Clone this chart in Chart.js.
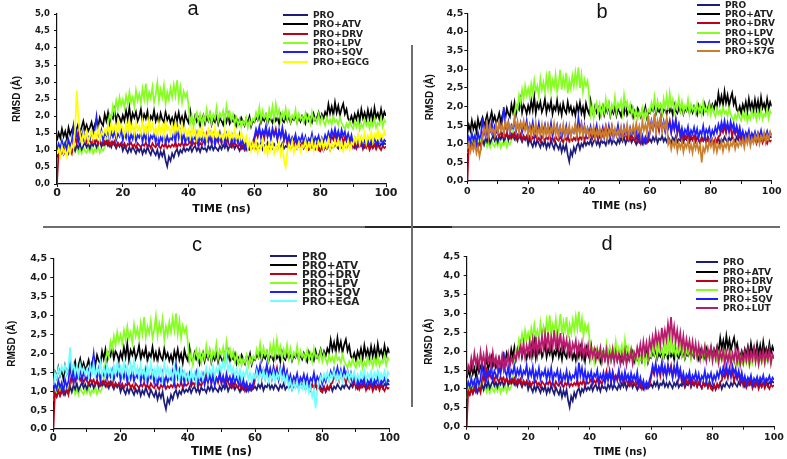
<!DOCTYPE html>
<html>
<head>
<meta charset="utf-8">
<script src="https://cdn.jsdelivr.net/npm/chart.js@4.4.1/dist/chart.umd.min.js"></script>
<style>
body { margin: 0; background: #fff; }
#page { position: relative; width: 787px; height: 459px; overflow: hidden; background: #fff; }
canvas { position: absolute; }
.tag { position: absolute; width: 40px; text-align: center; font: 20px "Liberation Sans", Arial, sans-serif; line-height: 20px; color: #111; }
.leg { position: absolute; height: 10px; font-family: "DejaVu Sans", sans-serif; font-weight: bold; line-height: 10px; color: #222; white-space: nowrap; }
.leg span { position: absolute; left: 0; top: 4px; height: 2px; }
.rule { position: absolute; background: #6e6e6e; }
</style>
</head>
<body>
<div id="page">
<canvas id="chartA" width="400" height="225" style="left:0;top:0"></canvas>
<canvas id="chartB" width="387" height="225" style="left:400px;top:0"></canvas>
<canvas id="chartC" width="400" height="231" style="left:0;top:228px"></canvas>
<canvas id="chartD" width="387" height="231" style="left:400px;top:228px"></canvas>
<div class="rule" style="left:43px;top:226px;width:737px;height:1.5px"></div>
<div class="rule" style="left:365px;top:226px;width:87px;height:1.5px;background:#2a2a2a"></div>
<div class="rule" style="left:411px;top:45px;width:1.5px;height:362px"></div>
</div>
<script>
// time axis (ns), one frame every 0.5 ns
var timeNs = [0,0.5,1,1.5,2,2.5,3,3.5,4,4.5,5,5.5,6,6.5,7,7.5,8,8.5,9,9.5,
  10,10.5,11,11.5,12,12.5,13,13.5,14,14.5,15,15.5,16,16.5,17,17.5,18,18.5,19,19.5,
  20,20.5,21,21.5,22,22.5,23,23.5,24,24.5,25,25.5,26,26.5,27,27.5,28,28.5,29,29.5,
  30,30.5,31,31.5,32,32.5,33,33.5,34,34.5,35,35.5,36,36.5,37,37.5,38,38.5,39,39.5,
  40,40.5,41,41.5,42,42.5,43,43.5,44,44.5,45,45.5,46,46.5,47,47.5,48,48.5,49,49.5,
  50,50.5,51,51.5,52,52.5,53,53.5,54,54.5,55,55.5,56,56.5,57,57.5,58,58.5,59,59.5,
  60,60.5,61,61.5,62,62.5,63,63.5,64,64.5,65,65.5,66,66.5,67,67.5,68,68.5,69,69.5,
  70,70.5,71,71.5,72,72.5,73,73.5,74,74.5,75,75.5,76,76.5,77,77.5,78,78.5,79,79.5,
  80,80.5,81,81.5,82,82.5,83,83.5,84,84.5,85,85.5,86,86.5,87,87.5,88,88.5,89,89.5,
  90,90.5,91,91.5,92,92.5,93,93.5,94,94.5,95,95.5,96,96.5,97,97.5,98,98.5,99,99.5,100];

// RMSD (A)
var proRmsd = [0.78,0.92,0.85,1.00,0.88,0.97,1.05,0.90,1.02,0.95,
  1.10,0.98,1.15,1.05,1.20,1.02,1.12,1.22,1.08,1.18,
  1.05,1.20,1.12,1.25,1.08,1.18,1.28,1.10,1.22,1.15,
  1.25,1.12,1.20,1.08,1.24,1.15,1.05,1.18,1.10,1.20,
  0.98,1.12,1.02,0.92,1.08,0.95,1.10,1.00,0.90,1.05,
  0.95,1.08,0.88,1.02,0.92,1.10,0.96,0.86,1.04,0.94,
  0.85,1.00,0.78,0.95,0.82,0.98,0.70,0.52,0.80,0.68,
  0.90,0.78,0.95,1.02,0.85,1.00,0.92,1.08,0.96,1.04,
  0.98,1.10,0.95,1.06,1.12,0.98,1.08,0.94,1.10,1.02,
  1.05,0.96,1.12,1.02,1.15,1.00,1.10,1.04,0.98,1.12,
  1.02,1.15,1.06,1.18,1.00,1.12,1.08,1.20,1.04,1.14,
  1.08,0.98,1.12,1.04,1.16,1.00,1.10,1.02,1.14,1.06,
  1.12,1.04,1.18,1.08,1.20,1.02,1.14,1.10,1.22,1.06,
  1.15,1.05,1.18,1.10,1.02,1.16,1.08,1.20,1.04,1.12,
  1.08,1.18,1.04,1.14,1.10,1.22,1.05,1.16,1.09,1.20,
  1.06,1.15,1.10,1.02,1.18,1.08,1.14,1.04,1.20,1.10,
  1.02,1.12,0.98,1.08,1.04,1.16,1.00,1.12,1.06,1.18,
  1.10,1.04,1.16,1.08,1.20,1.12,1.06,1.18,1.10,1.22,
  1.14,1.06,1.20,1.10,1.24,1.12,1.18,1.08,1.22,1.14,
  1.10,1.20,1.06,1.16,1.12,1.22,1.08,1.18,1.14,1.20,1.16];
var atvRmsd = [1.28,1.50,1.35,1.62,1.40,1.55,1.32,1.66,1.45,1.58,
  1.70,1.48,1.62,1.78,1.52,1.68,1.85,1.60,1.74,1.56,
  1.66,1.82,1.58,1.75,1.90,1.68,1.95,1.80,1.72,2.05,
  1.85,2.10,1.78,2.00,1.92,2.18,1.84,2.05,1.96,1.80,
  2.02,1.86,2.15,1.90,2.25,1.82,2.08,1.95,2.12,1.85,
  1.98,2.20,1.84,2.05,1.92,2.14,1.80,2.00,1.90,2.16,
  1.85,2.02,1.78,2.08,1.90,1.82,2.12,1.88,2.00,1.80,
  1.95,1.76,2.05,1.86,2.10,1.82,1.98,1.74,2.08,1.90,
  1.80,2.15,1.88,1.76,2.00,1.84,1.95,1.72,1.90,2.02,
  1.78,1.96,1.85,2.05,1.75,1.92,1.82,2.00,1.76,1.94,
  1.86,1.74,1.98,1.82,2.04,1.78,1.90,1.84,1.98,1.72,
  1.88,1.78,1.95,1.84,1.72,1.92,1.80,1.98,1.70,1.86,
  1.82,1.96,1.88,2.05,1.80,1.94,1.86,2.02,1.78,1.92,
  1.90,1.80,2.00,1.86,1.96,1.78,2.04,1.88,1.82,1.98,
  1.86,2.00,1.80,1.94,1.88,2.04,1.82,1.96,1.84,2.00,
  1.90,1.78,2.02,1.86,1.96,1.82,2.06,1.88,1.94,2.10,
  1.88,2.05,1.92,2.12,2.00,2.35,2.08,2.28,2.02,2.40,
  2.10,2.30,2.02,2.22,2.36,2.06,2.20,1.92,1.85,2.00,
  1.82,2.05,1.90,2.12,1.86,2.20,1.94,2.10,1.88,2.18,
  1.92,2.15,1.86,2.24,1.96,2.08,1.90,2.20,1.94,2.12,2.00];
var drvRmsd = [0.00,0.95,0.85,1.00,0.88,1.05,0.92,0.98,1.02,0.90,
  1.25,1.40,1.20,1.50,1.32,1.45,1.28,1.38,1.22,1.34,
  1.26,1.18,1.32,1.22,1.30,1.16,1.28,1.20,1.14,1.26,
  1.18,1.28,1.12,1.24,1.16,1.26,1.10,1.22,1.14,1.20,
  1.12,1.20,1.08,1.18,1.14,1.22,1.10,1.16,1.06,1.20,
  1.14,1.08,1.18,1.12,1.22,1.10,1.16,1.06,1.20,1.12,
  1.08,1.18,1.12,1.04,1.16,1.10,1.20,1.06,1.14,1.08,
  1.16,1.10,1.22,1.08,1.18,1.12,1.24,1.10,1.20,1.14,
  1.18,1.26,1.12,1.22,1.16,1.28,1.10,1.20,1.14,1.24,
  1.30,1.48,1.25,1.40,1.20,1.46,1.28,1.36,1.22,1.42,
  1.20,1.34,1.16,1.30,1.24,1.12,1.28,1.10,1.22,1.14,
  1.08,1.20,1.04,1.14,1.00,1.12,1.06,1.16,1.02,1.10,
  1.30,1.52,1.38,1.60,1.42,1.55,1.34,1.62,1.40,1.50,
  1.36,1.58,1.44,1.62,1.32,1.54,1.40,1.60,1.28,1.48,
  1.18,1.30,1.10,1.24,1.14,1.28,1.08,1.22,1.12,1.20,
  1.06,1.18,1.10,1.02,1.16,1.08,1.20,1.04,1.14,1.00,
  0.96,1.10,1.00,1.14,1.04,1.18,1.22,1.40,1.30,1.48,
  1.28,1.50,1.34,1.44,1.20,1.38,1.26,1.42,1.18,1.30,
  1.08,1.20,1.04,1.16,1.10,1.22,1.02,1.14,1.06,1.18,
  1.00,1.12,1.06,1.16,1.02,1.14,1.08,1.00,1.12,1.06,1.10];
var lpvRmsd = [0.75,1.05,0.90,1.15,0.98,1.22,1.05,0.95,1.12,1.00,
  1.18,0.96,1.10,0.92,1.04,0.90,1.08,0.98,0.92,1.06,
  0.94,1.10,0.90,1.02,0.96,1.12,0.92,1.04,0.98,1.08,
  1.30,1.75,2.05,1.90,2.30,2.10,2.45,2.20,2.55,2.30,
  2.48,2.25,2.60,2.35,2.70,2.40,2.55,2.28,2.75,2.45,
  2.65,2.38,2.80,2.50,2.95,2.42,2.70,2.52,2.85,2.40,
  2.62,2.98,2.45,2.78,2.55,2.90,2.35,2.70,2.48,2.82,
  2.55,2.92,2.60,3.05,2.50,2.85,2.40,2.72,2.55,2.68,
  2.30,1.78,2.00,1.70,1.95,2.10,1.82,2.05,1.75,2.00,
  1.85,2.20,1.90,2.10,1.80,2.05,1.92,2.25,1.85,2.08,
  1.95,2.15,1.82,2.30,1.98,2.12,1.86,2.05,1.78,1.95,
  1.72,1.90,1.68,1.85,1.75,1.95,1.66,1.88,1.74,1.92,
  1.85,2.10,1.92,2.25,1.88,2.15,1.95,2.05,1.82,2.20,
  1.95,2.28,1.90,2.35,2.00,2.18,1.86,2.10,1.94,2.22,
  1.88,2.12,1.84,2.02,1.92,2.18,1.80,2.06,1.90,1.98,
  1.82,2.08,1.86,2.00,1.78,2.12,1.88,1.96,1.80,2.05,
  1.78,1.98,1.84,1.72,1.95,1.80,1.90,1.75,1.98,1.82,
  1.88,1.74,1.96,1.80,1.70,1.62,1.78,1.66,1.84,1.70,
  1.62,1.82,1.68,1.88,1.60,1.76,1.66,1.90,1.72,1.84,
  1.64,1.86,1.70,1.92,1.66,1.80,1.74,1.95,1.68,1.88,1.80];
var sqvRmsd = [1.00,1.18,1.05,1.28,1.10,1.22,0.98,1.30,1.12,1.25,
  1.70,1.30,1.52,1.25,1.45,1.35,1.58,1.28,1.48,1.38,
  1.30,1.55,1.40,1.62,1.98,1.45,1.35,1.58,1.28,1.50,
  1.42,1.60,1.32,1.52,1.38,1.56,1.30,1.48,1.40,1.62,
  1.28,1.50,1.35,1.58,1.22,1.46,1.32,1.55,1.26,1.44,
  1.36,1.52,1.24,1.48,1.30,1.56,1.20,1.42,1.34,1.50,
  1.22,1.44,1.16,1.38,1.26,1.48,1.18,1.40,1.24,1.36,
  1.30,1.52,1.22,1.70,1.35,1.55,1.25,1.48,1.20,1.42,
  1.28,1.46,1.20,1.40,1.32,1.50,1.18,1.38,1.26,1.44,
  1.16,1.36,1.24,1.48,1.20,1.42,1.14,1.34,1.28,1.50,
  1.22,1.40,1.18,1.46,1.26,1.38,1.15,1.42,1.24,1.36,
  1.20,1.45,1.12,1.30,1.08,1.22,1.02,1.18,1.06,1.24,
  1.38,1.62,1.44,1.68,1.36,1.58,1.46,1.70,1.40,1.60,
  1.34,1.64,1.42,1.56,1.30,1.60,1.38,1.66,1.32,1.52,
  1.24,1.42,1.20,1.38,1.28,1.46,1.18,1.36,1.26,1.44,
  1.22,1.40,1.16,1.34,1.26,1.48,1.20,1.38,1.28,1.42,
  1.18,1.36,1.24,1.44,1.30,1.52,1.36,1.58,1.40,1.62,
  1.38,1.56,1.32,1.60,1.42,1.54,1.30,1.48,1.26,1.44,
  1.18,1.34,1.14,1.30,1.20,1.36,1.12,1.28,1.18,1.32,
  1.14,1.30,1.20,1.36,1.16,1.28,1.22,1.34,1.18,1.30,1.24];
var egcgRmsd = [0.88,1.02,0.82,1.10,0.90,1.00,0.80,1.08,0.92,1.15,
  1.05,1.60,2.75,1.90,1.45,1.20,1.50,1.30,1.55,1.25,
  1.40,1.58,1.32,1.50,1.38,1.62,1.30,1.52,1.44,1.60,
  1.48,1.72,1.42,1.80,1.55,1.70,1.45,1.85,1.52,1.75,
  1.62,1.45,1.78,1.50,1.88,1.56,1.72,1.46,1.82,1.58,
  1.70,1.48,1.86,1.55,1.74,1.44,1.90,1.60,1.76,1.50,
  1.66,1.42,1.80,1.52,1.72,1.40,1.85,1.58,1.68,1.46,
  1.75,1.50,1.82,1.56,1.70,1.44,1.78,1.52,1.64,1.40,
  1.58,1.36,1.66,1.42,1.60,1.32,1.55,1.40,1.68,1.38,
  1.50,1.30,1.62,1.44,1.56,1.34,1.66,1.40,1.52,1.36,
  1.48,1.30,1.58,1.38,1.54,1.28,1.50,1.36,1.60,1.34,
  1.46,1.30,1.52,1.36,1.24,1.40,1.05,1.28,0.98,1.20,
  1.02,1.25,0.92,1.18,1.05,1.28,0.96,1.15,0.88,1.22,
  1.00,1.20,0.90,1.12,0.98,1.25,0.86,1.10,0.70,0.50,
  0.95,1.18,1.02,1.26,0.92,1.15,1.04,1.22,0.96,1.14,
  1.08,1.28,1.00,1.20,1.06,1.30,0.98,1.18,1.04,1.24,
  1.10,1.30,1.02,1.22,1.08,1.32,1.00,1.20,1.06,1.26,
  1.12,1.30,1.04,1.24,0.98,1.18,1.06,1.28,1.02,1.22,
  1.16,1.36,1.22,1.45,1.18,1.40,1.26,1.50,1.20,1.42,
  1.28,1.52,1.24,1.46,1.34,1.58,1.30,1.48,1.36,1.55,1.40];
var k7gRmsd = [0.85,1.00,0.78,0.95,0.82,1.02,0.75,0.92,0.66,0.88,
  1.20,1.42,1.25,1.55,1.18,1.48,1.30,1.40,1.22,1.52,
  1.30,1.58,1.36,1.50,1.28,1.62,1.40,1.55,1.32,1.48,
  1.45,1.68,1.38,1.60,1.30,1.55,1.42,1.62,1.35,1.50,
  1.25,1.48,1.20,1.44,1.30,1.56,1.22,1.40,1.28,1.52,
  1.18,1.45,1.26,1.50,1.20,1.42,1.32,1.55,1.24,1.46,
  1.20,1.44,1.28,1.52,1.18,1.40,1.26,1.48,1.16,1.42,
  1.30,1.55,1.22,1.46,1.28,1.50,1.20,1.44,1.26,1.40,
  1.18,1.38,1.24,1.46,1.14,1.36,1.22,1.42,1.16,1.34,
  1.20,1.44,1.12,1.38,1.26,1.48,1.18,1.40,1.22,1.36,
  1.24,1.46,1.18,1.42,1.28,1.52,1.20,1.40,1.30,1.50,
  1.26,1.55,1.32,1.48,1.22,1.60,1.36,1.52,1.28,1.75,
  1.34,1.58,1.40,1.80,1.30,1.62,1.45,1.70,1.32,1.55,
  1.40,1.68,0.98,1.08,0.85,1.05,0.92,1.10,0.80,1.02,
  0.88,1.06,0.78,1.00,0.90,1.08,0.82,0.98,0.76,1.04,
  0.86,1.02,0.80,0.96,0.50,0.90,0.78,1.00,0.84,1.06,
  0.92,1.08,0.82,1.04,0.78,0.98,0.88,1.06,0.80,1.00,
  0.90,1.08,0.84,1.02,0.94,1.10,0.86,1.04,0.92,1.06,
  0.96,1.12,0.90,1.16,1.00,1.20,0.94,1.14,1.02,1.22,
  1.06,1.26,1.00,1.20,1.10,1.30,1.04,1.24,1.12,1.32,1.20];
var egaRmsd = [1.15,1.48,1.35,1.60,1.42,1.65,1.50,1.68,1.45,1.62,
  2.15,1.55,1.72,1.45,1.65,1.40,1.70,1.50,1.62,1.44,
  1.58,1.38,1.66,1.45,1.72,1.40,1.60,1.48,1.75,1.42,
  1.62,1.40,1.70,1.46,1.58,1.36,1.68,1.44,1.74,1.50,
  1.64,1.42,1.78,1.48,1.66,1.38,1.72,1.50,1.80,1.46,
  1.62,1.36,1.70,1.44,1.58,1.32,1.66,1.42,1.74,1.40,
  1.58,1.34,1.68,1.42,1.60,1.30,1.72,1.46,1.62,1.38,
  1.55,1.32,1.64,1.40,1.56,1.28,1.60,1.38,1.52,1.30,
  1.46,1.26,1.54,1.32,1.48,1.22,1.56,1.36,1.50,1.30,
  1.45,1.62,1.38,1.58,1.42,1.66,1.36,1.60,1.48,1.70,
  1.52,1.78,1.60,1.90,1.55,1.72,1.48,1.62,1.40,1.58,
  1.36,1.55,1.30,1.50,1.38,1.58,1.32,1.48,1.26,1.45,
  1.34,1.52,1.28,1.48,1.36,1.56,1.30,1.46,1.24,1.42,
  1.32,1.50,1.26,1.46,1.34,1.54,1.28,1.44,1.22,1.40,
  1.10,1.28,1.04,1.22,1.08,1.26,1.00,1.18,1.06,1.24,
  1.02,1.20,0.96,1.12,0.85,1.05,0.55,1.00,1.20,1.38,
  1.28,1.45,1.32,1.50,1.26,1.44,1.34,1.52,1.28,1.46,
  1.30,1.48,1.24,1.42,1.34,1.52,1.28,1.46,1.32,1.50,
  1.26,1.44,1.30,1.50,1.36,1.54,1.28,1.46,1.34,1.52,
  1.30,1.48,1.36,1.54,1.28,1.46,1.34,1.52,1.30,1.50,1.42];
var lutRmsd = [1.35,1.62,1.50,1.82,1.58,1.95,1.66,1.85,1.55,1.98,
  1.68,1.90,1.60,2.02,1.72,1.88,1.58,1.96,1.66,1.84,
  1.55,1.80,1.62,1.88,1.52,1.78,1.65,1.92,1.58,1.82,
  1.70,1.90,1.78,2.05,1.85,2.12,1.90,2.20,1.84,2.15,
  1.95,2.25,1.88,2.30,2.00,2.38,1.92,2.28,2.05,2.40,
  2.02,2.45,2.10,2.50,1.98,2.38,2.12,2.55,2.04,2.42,
  2.10,2.48,2.00,2.36,2.08,2.30,1.95,2.25,1.90,2.20,
  2.05,2.28,1.88,2.18,1.96,2.22,1.85,2.12,1.92,2.16,
  1.80,2.10,1.86,2.05,1.76,2.02,1.84,2.08,1.72,1.98,
  1.78,2.04,1.68,1.95,1.80,2.06,1.70,1.98,1.74,1.92,
  1.66,1.92,1.72,2.00,1.64,1.90,1.76,2.02,1.68,1.96,
  1.82,2.10,1.90,2.18,1.86,2.25,1.95,2.22,1.88,2.30,
  2.05,2.38,2.12,2.50,2.20,2.45,2.15,2.62,2.25,2.55,
  2.30,2.72,2.40,2.90,2.35,2.65,2.25,2.55,2.18,2.48,
  2.08,2.40,2.00,2.32,2.06,2.28,1.95,2.25,1.92,2.20,
  1.85,2.15,1.80,2.08,1.88,2.12,1.76,2.05,1.82,2.10,
  1.74,2.02,1.80,2.08,1.70,1.98,1.78,2.04,1.68,1.96,
  1.72,2.00,1.66,1.94,1.76,2.06,1.70,1.98,1.64,1.92,
  1.70,1.98,1.75,2.04,1.68,1.96,1.78,2.08,1.72,2.00,
  1.66,1.95,1.74,2.02,1.70,1.98,1.76,2.05,1.68,1.92,1.80];

var baseNames = ["PRO", "PRO+ATV", "PRO+DRV", "PRO+LPV", "PRO+SQV"];
var baseColors = ["#1c1c7c", "#000000", "#c00018", "#84ff20", "#1e1eff"];
// lower order = drawn on top
var baseOrder = [3, 5, 2, 4, 1];

var panels = [
  { id: "chartA", letter: "a", ligand: "PRO+EGCG", data: egcgRmsd, color: "#ffff00", yMax: 5,
    yWidth: 57, xHeight: 41, padTop: 14, padRight: 14,
    yTick: 8.5, yTickPad: 4, xTick: 11, xTickPad: 0, xTitle: 11, xTitlePad: 9.4, yTitlePad: 11,
    tagX: 193, tagTop: -1.9, legX: 283, legLine: 25, legGap: 5, legY: 15, legStep: 9.33, legFont: 9 },
  { id: "chartB", letter: "b", ligand: "PRO+K7G", data: k7gRmsd, color: "#cc7d2c", yMax: 4.5,
    yWidth: 67.3, xHeight: 44, padTop: 13.3, padRight: 15.3,
    yTick: 9.5, yTickPad: 1, xTick: 9.5, xTickPad: 2.2, xTitle: 10.4, xTitlePad: 12.4, yTitlePad: 24.3,
    tagX: 602, tagTop: 1.4, legX: 697, legLine: 23, legGap: 5, legY: 5, legStep: 9.2, legFont: 9 },
  { id: "chartC", letter: "c", ligand: "PRO+EGA", data: egaRmsd, color: "#70ffff", yMax: 4.5,
    yWidth: 53.3, xHeight: 30, padTop: 30.3, padRight: 10,
    yTick: 9.5, yTickPad: 3.3, xTick: 10, xTickPad: 0, xTitle: 11.5, xTitlePad: 0, yTitlePad: 6.5,
    tagX: 197, tagTop: 234.1, legX: 270, legLine: 27, legGap: 5, legY: 256, legStep: 9.0, legFont: 10.5 },
  { id: "chartD", letter: "d", ligand: "PRO+LUT", data: lutRmsd, color: "#b81a6c", yMax: 4.5,
    yWidth: 66.7, xHeight: 32.3, padTop: 28.7, padRight: 13,
    yTick: 9.5, yTickPad: 3.7, xTick: 9.5, xTickPad: 2, xTitle: 10, xTitlePad: 0.7, yTitlePad: 23.2,
    tagX: 607, tagTop: 233.1, legX: 696, legLine: 22, legGap: 5, legY: 262.3, legStep: 9.2, legFont: 9 }
];

function buildPanel(p) {
  var ctx = document.getElementById(p.id).getContext('2d');
  var names = baseNames.concat([p.ligand]);
  var colors = baseColors.concat([p.color]);
  var orders = baseOrder.concat([0]);
  var values = [proRmsd, atvRmsd, drvRmsd, lpvRmsd, sqvRmsd, p.data];
  var datasets = [];
  for (var i = 0; i < names.length; i++) {
    datasets.push({
      label: names[i],
      data: values[i].map(function (v, k) { return { x: timeNs[k], y: v }; }),
      borderColor: colors[i],
      backgroundColor: colors[i],
      borderWidth: 1.7,
      pointRadius: 0,
      tension: 0,
      order: orders[i]
    });
  }
  var axisFont = "'DejaVu Sans', sans-serif";
  new Chart(ctx, {
    type: 'line',
    data: { datasets: datasets },
    options: {
      responsive: false,
      animation: false,
      layout: { padding: { top: p.padTop, right: p.padRight, left: 0, bottom: 0 } },
      plugins: { legend: { display: false }, tooltip: { enabled: false } },
      scales: {
        x: {
          type: 'linear', min: 0, max: 100,
          afterFit: function (s) { s.height = p.xHeight; },
          border: { display: true, color: '#111', width: 1.2 },
          grid: { drawOnChartArea: false, drawTicks: true, tickLength: 3, color: '#111' },
          ticks: {
            stepSize: 10, autoSkip: false, maxRotation: 0, padding: p.xTickPad, color: '#1a1a1a',
            font: { family: axisFont, weight: 'bold', size: p.xTick },
            callback: function (v) { return v % 20 === 0 ? v : ''; }
          },
          title: {
            display: true, text: 'TIME (ns)', color: '#111',
            font: { family: axisFont, weight: 'bold', size: p.xTitle },
            padding: { top: 0, bottom: p.xTitlePad }
          }
        },
        y: {
          min: 0, max: p.yMax,
          afterFit: function (s) { s.width = p.yWidth; },
          border: { display: true, color: '#111', width: 1.2 },
          grid: { drawOnChartArea: false, drawTicks: true, tickLength: 3, color: '#111' },
          ticks: {
            stepSize: 0.5, padding: p.yTickPad, color: '#1a1a1a',
            font: { family: axisFont, weight: 'bold', size: p.yTick },
            callback: function (v) { return v.toFixed(1).replace('.', ','); }
          },
          title: {
            display: true, text: 'RMSD (Å)', color: '#111',
            font: { family: "'Liberation Sans', Arial, sans-serif", weight: 'bold', size: 10 },
            padding: { top: p.yTitlePad, bottom: 0 }
          }
        }
      }
    }
  });

  // panel letter and legend
  var page = document.getElementById('page');
  var tag = document.createElement('div');
  tag.className = 'tag';
  tag.style.left = (p.tagX - 20) + 'px';
  tag.style.top = p.tagTop + 'px';
  tag.textContent = p.letter;
  page.appendChild(tag);
  for (var j = 0; j < names.length; j++) {
    var row = document.createElement('div');
    row.className = 'leg';
    row.style.left = p.legX + 'px';
    row.style.top = (p.legY + j * p.legStep - 5) + 'px';
    row.style.fontSize = p.legFont + 'px';
    row.style.paddingLeft = (p.legLine + p.legGap) + 'px';
    var line = document.createElement('span');
    line.style.width = p.legLine + 'px';
    line.style.background = colors[j];
    row.appendChild(line);
    row.appendChild(document.createTextNode(names[j]));
    page.appendChild(row);
  }
}

panels.forEach(buildPanel);
</script>
</body>
</html>
